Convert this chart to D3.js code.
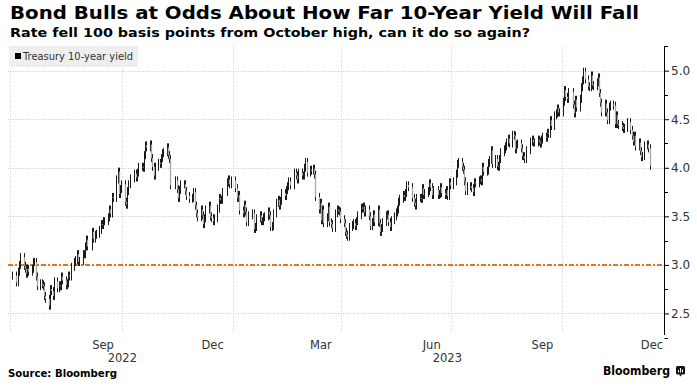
<!DOCTYPE html>
<html>
<head>
<meta charset="utf-8">
<script src="https://cdn.jsdelivr.net/npm/d3@7"></script>
<style>
  body { margin: 0; background: #fff; }
  svg { display: block; }
  text { font-family: "DejaVu Sans", Verdana, sans-serif; fill: #222; }
</style>
</head>
<body>
<div id="chart"></div>
<script>
// Treasury 10-year yield, daily closes (one array per month)
const jul22 = [2.89,2.82,2.93,3.00,3.08,2.99,2.96,2.91,2.96,2.93,2.96,3.03,3.03,2.88,2.78,2.81,2.80,2.78,2.68,2.65]
const aug22 = [2.58,2.75,2.73,2.68,2.83,2.76,2.79,2.78,2.88,2.84,2.79,2.81,2.89,2.88,2.98,3.03,3.05,3.11,3.03,3.04,3.11,3.11,3.19]
const sep22 = [3.26,3.19,3.34,3.27,3.31,3.32,3.36,3.42,3.41,3.45,3.45,3.49,3.57,3.53,3.70,3.69,3.88,3.96,3.73,3.78,3.83]
const oct22 = [3.65,3.62,3.76,3.83,3.89,3.94,3.90,3.95,4.01,4.01,4.00,4.13,4.23,4.21,4.24,4.10,4.01,3.92,4.01,4.05]
const nov22 = [4.04,4.10,4.15,4.16,4.21,4.13,4.09,3.82,3.87,3.78,3.69,3.77,3.83,3.83,3.76,3.71,3.68,3.69,3.75,3.61]
const dec22 = [3.53,3.49,3.57,3.51,3.42,3.48,3.57,3.61,3.50,3.48,3.45,3.48,3.58,3.69,3.67,3.67,3.75,3.85,3.88,3.83,3.87]
const jan23 = [3.79,3.69,3.72,3.56,3.53,3.62,3.55,3.44,3.51,3.53,3.37,3.39,3.48,3.51,3.45,3.45,3.49,3.50,3.55,3.51]
const feb23 = [3.39,3.40,3.53,3.64,3.67,3.61,3.66,3.74,3.71,3.77,3.81,3.86,3.82,3.95,3.92,3.88,3.95,3.92,3.92]
const mar23 = [4.00,4.06,3.95,3.98,3.97,3.99,3.93,3.70,3.57,3.64,3.46,3.57,3.43,3.49,3.60,3.44,3.42,3.38,3.53,3.57,3.56,3.55,3.47]
const apr23 = [3.43,3.34,3.31,3.29,3.39,3.41,3.43,3.40,3.45,3.51,3.59,3.58,3.60,3.54,3.57,3.50,3.40,3.44,3.52,3.44]
const may23 = [3.57,3.43,3.34,3.38,3.44,3.51,3.52,3.44,3.39,3.46,3.50,3.54,3.57,3.65,3.68,3.72,3.70,3.74,3.82,3.80,3.69,3.64]
const jun23 = [3.61,3.69,3.69,3.68,3.79,3.72,3.74,3.76,3.84,3.80,3.72,3.77,3.72,3.73,3.80,3.74,3.72,3.77,3.71,3.85,3.82]
const jul23 = [3.86,3.94,4.04,4.06,4.01,3.98,3.86,3.76,3.81,3.81,3.79,3.75,3.85,3.84,3.87,3.88,3.86,4.01,3.96,3.97]
const aug23 = [4.05,4.08,4.18,4.04,4.09,4.02,4.01,4.09,4.16,4.19,4.22,4.26,4.30,4.25,4.34,4.33,4.19,4.24,4.25,4.20,4.12,4.12,4.09]
const sep23 = [4.18,4.27,4.29,4.26,4.26,4.29,4.27,4.25,4.29,4.32,4.31,4.36,4.35,4.49,4.43,4.54,4.56,4.61,4.57,4.57]
const oct23 = [4.68,4.80,4.73,4.71,4.78,4.65,4.56,4.70,4.62,4.71,4.83,4.90,4.99,4.91,4.84,4.83,4.95,4.85,4.84,4.88,4.93]
const nov23 = [4.77,4.67,4.57,4.66,4.57,4.49,4.63,4.65,4.64,4.45,4.54,4.45,4.44,4.42,4.40,4.41,4.47,4.39,4.33,4.27,4.33]
const dec23 = [4.22,4.26,4.17,4.11,4.12,4.23,4.24,4.20,4.02]

const months = [
  [2022, 6, jul22], [2022, 7, aug22], [2022, 8, sep22], [2022, 9, oct22], [2022, 10, nov22], [2022, 11, dec22],
  [2023, 0, jan23], [2023, 1, feb23], [2023, 2, mar23], [2023, 3, apr23], [2023, 4, may23], [2023, 5, jun23],
  [2023, 6, jul23], [2023, 7, aug23], [2023, 8, sep23], [2023, 9, oct23], [2023, 10, nov23], [2023, 11, dec23]
]

// bond market holidays in the window
const holidays = ["2022-07-04","2022-09-05","2022-10-10","2022-11-11","2022-11-24","2022-12-26",
  "2023-01-02","2023-01-16","2023-02-20","2023-05-29","2023-06-19","2023-07-04","2023-09-04",
  "2023-10-09","2023-11-23"]

const yTicks = [2.5, 3.0, 3.5, 4.0, 4.5, 5.0]
const yMinor = [2.25, 2.75, 3.25, 3.75, 4.25, 4.75, 5.25]
const monthTicks = [["2022-09-15","Sep"],["2022-12-15","Dec"],["2023-03-15","Mar"],["2023-06-15","Jun"],["2023-09-15","Sep"],["2023-12-15","Dec"]]
const yearTicks = [["2022-10-01","2022"],["2023-06-28","2023"]]
const quarterLines = ["2022-06-30","2022-10-01","2023-01-01","2023-04-01","2023-07-01","2023-10-01"]
const refLevel = 3.0

const W = 697, H = 387
const PLOT = {LEFT: 8, RIGHT: 664, TOP: 46, BOTTOM: 335}
const parse = d3.timeParse("%Y-%m-%d")
const fmt = d3.timeFormat("%Y-%m-%d")

// build daily rows
const rows = []
months.forEach(([yr, mo, vals]) => {
  const days = []
  for (let d = 1; d <= 31; d++) {
    const dt = new Date(yr, mo, d)
    if (dt.getMonth() !== mo) break
    const wd = dt.getDay()
    if (wd === 0 || wd === 6) continue
    if (holidays.includes(fmt(dt))) continue
    days.push(dt)
  }
  vals.forEach((v, i) => rows.push({date: days[i], close: v}))
})
rows.forEach((r, i) => { r.open = i ? rows[i - 1].close : r.close })

const svg = d3.select("#chart").append("svg")
  .attr("width", W).attr("height", H)

const x = d3.scaleTime()
  .domain([new Date(2022, 5, 28), new Date(2023, 11, 25)])
  .range([PLOT.LEFT, PLOT.RIGHT])
const y = d3.scaleLinear()
  .domain([2.278, 5.254])
  .range([PLOT.BOTTOM, PLOT.TOP])

function fit(sel, width) {
  const w = sel.node().getComputedTextLength()
  if (Math.abs(w - width) > 1) sel.attr("textLength", width).attr("lengthAdjust", "spacingAndGlyphs")
  return sel
}

// titles
fit(svg.append("text").attr("x", 10).attr("y", 19)
  .attr("font-size", 17).attr("font-weight", "bold").style("fill", "#000")
  .text("Bond Bulls at Odds About How Far 10-Year Yield Will Fall"), 629)
fit(svg.append("text").attr("x", 10).attr("y", 37)
  .attr("font-size", 13).attr("font-weight", "bold").style("fill", "#000")
  .text("Rate fell 100 basis points from October high, can it do so again?"), 520)

// gridlines
svg.append("g").selectAll("line").data(yTicks).join("line")
  .attr("x1", PLOT.LEFT).attr("x2", PLOT.RIGHT)
  .attr("y1", d => Math.round(y(d)) + 0.5).attr("y2", d => Math.round(y(d)) + 0.5)
  .attr("stroke", "#c8c8c8").attr("stroke-dasharray", "1,1.5")
svg.append("g").selectAll("line").data(quarterLines).join("line")
  .attr("x1", d => Math.round(x(parse(d))) + 0.5).attr("x2", d => Math.round(x(parse(d))) + 0.5)
  .attr("y1", PLOT.TOP).attr("y2", PLOT.BOTTOM - 2)
  .attr("stroke", "#d0d0d0").attr("stroke-dasharray", "1,1.5")

// legend
const leg = svg.append("g")
leg.append("rect").attr("x", 9).attr("y", 46).attr("width", 129).attr("height", 21).attr("fill", "#eeeeee")
leg.append("rect").attr("x", 15).attr("y", 53).attr("width", 6).attr("height", 6).attr("fill", "#000")
fit(leg.append("text").attr("x", 23).attr("y", 60).attr("font-size", 10).style("fill", "#333")
  .text("Treasury 10-year yield"), 110)

// reference line at 3%
svg.append("line")
  .attr("x1", PLOT.LEFT).attr("x2", PLOT.RIGHT)
  .attr("y1", y(refLevel)).attr("y2", y(refLevel))
  .attr("stroke", "#e8731e").attr("stroke-width", 2).attr("stroke-dasharray", "5,2,2,2")

// daily bars: wick in black, body lighter on down days
const bars = svg.append("g").selectAll("g").data(rows).join("g")
  .attr("transform", d => `translate(${Math.round(x(d.date)) + 0.5},0)`)
bars.append("line")
  .attr("y1", d => y(Math.max(d.open, d.close)) - 4)
  .attr("y2", d => y(Math.min(d.open, d.close)) + 4)
  .attr("stroke", "#1a1a1a").attr("stroke-width", 1)
bars.filter(d => d.close < d.open).append("line")
  .attr("y1", d => y(d.open))
  .attr("y2", d => y(d.close))
  .attr("stroke", "#a8a8a8").attr("stroke-width", 1.3)

// right axis
const axis = d3.axisRight(y).tickValues(yTicks).tickFormat(d3.format(".1f")).tickSize(5).tickPadding(2)
const ag = svg.append("g").attr("transform", `translate(${PLOT.RIGHT},0)`).call(axis)
ag.select(".domain").attr("d", `M0.5,${PLOT.TOP}V${PLOT.BOTTOM}`).attr("stroke", "#000")
ag.selectAll(".tick line").attr("stroke", "#000").attr("x1", 0.5)
ag.selectAll(".tick text").attr("font-size", 12).attr("font-family", "DejaVu Sans").style("fill", "#333")
ag.selectAll(".minor").data(yMinor).join("line").attr("class", "minor")
  .attr("x1", 0.5).attr("x2", 4).attr("y1", d => Math.round(y(d)) + 0.5).attr("y2", d => Math.round(y(d)) + 0.5)
  .attr("stroke", "#000")

// x labels
svg.append("g").selectAll("text").data(monthTicks).join("text")
  .attr("x", d => x(parse(d[0]))).attr("y", 349)
  .attr("text-anchor", "middle").attr("font-size", 11.5).style("fill", "#333")
  .text(d => d[1])
svg.append("g").selectAll("text").data(yearTicks).join("text")
  .attr("x", d => x(parse(d[0]))).attr("y", 362)
  .attr("text-anchor", "middle").attr("font-size", 11.5).style("fill", "#333")
  .text(d => d[1])

// footer
fit(svg.append("text").attr("x", 8).attr("y", 377).attr("font-size", 10.5).attr("font-weight", "bold").style("fill", "#000")
  .text("Source: Bloomberg"), 109)
fit(svg.append("text").attr("x", 603).attr("y", 375).attr("font-size", 11.5).attr("font-weight", "bold").style("fill", "#000")
  .text("Bloomberg"), 67)
const logo = svg.append("g").attr("transform", "translate(676,366)")
logo.append("rect").attr("width", 9).attr("height", 8.5).attr("rx", 1.5).attr("fill", "#111")
logo.append("path").attr("d", "M3,8.5 L4.5,10.5 L6,8.5 Z").attr("fill", "#111")
logo.selectAll(".b").data([[2.5, 4], [4.5, 2], [6.5, 3.5]]).join("line")
  .attr("x1", d => d[0]).attr("x2", d => d[0]).attr("y1", d => d[1]).attr("y2", 6.5)
  .attr("stroke", "#fff").attr("stroke-width", 1)
</script>
</body>
</html>
